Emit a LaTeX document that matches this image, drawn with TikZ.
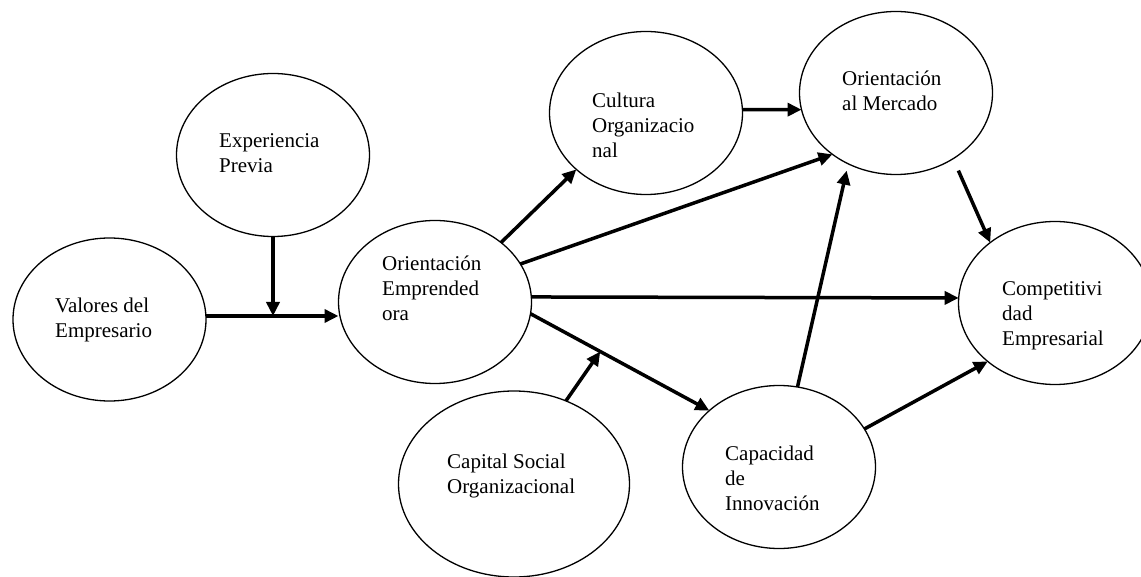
\documentclass[tikz,border=0pt]{standalone}
\usepackage{fontspec}
\setmainfont{Liberation Serif}
\usetikzlibrary{arrows.meta,shapes.geometric}
\begin{document}
\begin{tikzpicture}[x=1pt,y=-1pt,
  bubble/.style={draw, ellipse, line width=1.3pt, minimum width=193pt, minimum height=163pt, inner sep=0pt, outer sep=0pt},
  lbl/.style={anchor=base west, inner sep=0pt, font=\fontsize{21}{25}\selectfont},
  arr/.style={line width=3.5pt, -{Triangle[length=14pt,width=13pt]}},
]
\useasboundingbox (0,0) rectangle (1141,577);
% ellipses
\node[bubble] (V)    at (109.5,319.5) {};
\node[bubble] (X)    at (273,155) {};
\node[bubble] (OE)   at (435,302) {};
\node[bubble] (C)    at (646,113) {};
\node[bubble] (OM)   at (896,93) {};
\node[bubble] (Cap)  at (779,467) {};
\node[bubble, minimum width=231pt, minimum height=186pt] (CS) at (514,484) {};
\node[bubble] (Comp) at (1055,303) {};
% labels
\node[lbl] (tV)    at (55,313)   {\begin{tabular}[t]{@{}l@{}}Valores del\\Empresario\end{tabular}};
\node[lbl] (tX)    at (219,148)  {\begin{tabular}[t]{@{}l@{}}Experiencia\\Previa\end{tabular}};
\node[lbl] (tOE)   at (382,271)  {\begin{tabular}[t]{@{}l@{}}Orientación\\Emprended\\ora\end{tabular}};
\node[lbl] (tC)    at (592,108)  {\begin{tabular}[t]{@{}l@{}}Cultura\\Organizacio\\nal\end{tabular}};
\node[lbl] (tOM)   at (842,86)   {\begin{tabular}[t]{@{}l@{}}Orientación\\al Mercado\end{tabular}};
\node[lbl] (tCap)  at (725,460)  {\begin{tabular}[t]{@{}l@{}}Capacidad\\de\\Innovación\end{tabular}};
\node[lbl] (tCS)   at (447,468)  {\begin{tabular}[t]{@{}l@{}}Capital Social\\Organizacional\end{tabular}};
\node[lbl] (tComp) at (1002,296) {\begin{tabular}[t]{@{}l@{}}Competitivi\\dad\\Empresarial\end{tabular}};
% connectors
\coordinate (j) at (273,316);
\draw[arr] (X.south) -- (j);
\draw[arr] (V.east |- j) -- (OE.west |- j);
\draw[arr] (OE.42.5) -- (C.219.7);
\draw[arr] (OE.24.9) -- (OM.224.1);
\draw[arr] (OE.3) -- (Comp.177);
\draw[arr] (OE.-7.6) -- coordinate[pos=0.39] (m) (Cap.141.2);
\draw[arr] (CS.58.7) -- (m);
\draw[arr] (C.2) -- (OM.190.1);
\draw[arr, shorten >=7pt] (Cap.77) -- (OM.236.6);
\draw[arr, shorten <=13pt] (OM.-49.7) -- (Comp.137.4);
\draw[arr] (Cap.24.9) -- (Comp.221.1);
\end{tikzpicture}
\end{document}
